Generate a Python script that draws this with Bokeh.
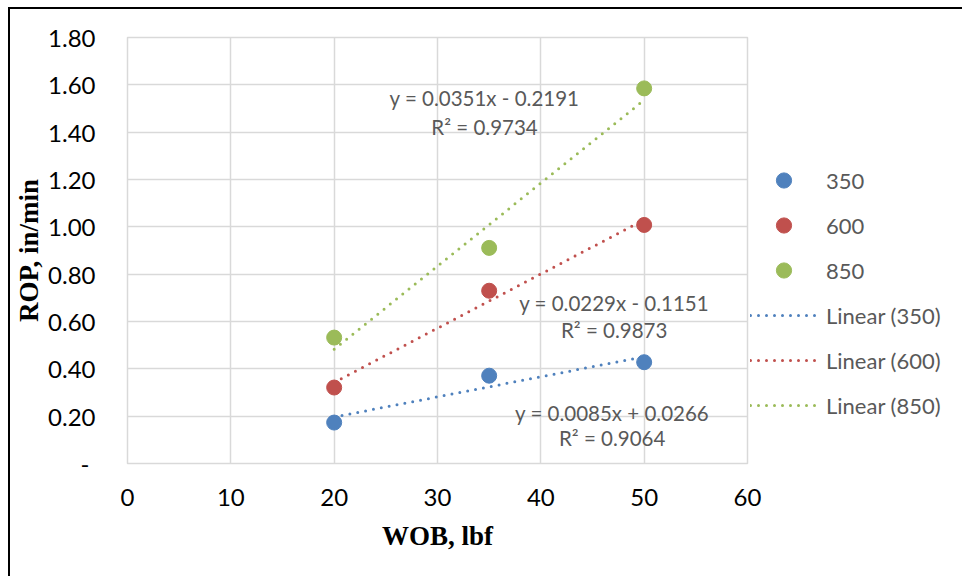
from bokeh.plotting import figure
from bokeh.models import FixedTicker, Legend, LegendItem, Label, NumeralTickFormatter
from bokeh.embed import file_html
from bokeh.resources import INLINE
import numpy as np

# ---- data ----
wob = [20, 35, 50]
series_names = ["350", "600", "850"]
rop_350 = [0.173, 0.371, 0.428]
rop_600 = [0.321, 0.730, 1.008]
rop_850 = [0.532, 0.911, 1.585]
colors = ["#4F81BD", "#C0504D", "#9BBB59"]
eq_texts = ["y = 0.0085x + 0.0266", "y = 0.0229x - 0.1151", "y = 0.0351x - 0.2191"]
r2_texts = ["R² = 0.9064", "R² = 0.9873", "R² = 0.9734"]
x_ticks = [0, 10, 20, 30, 40, 50, 60]
y_ticks = [0, 0.2, 0.4, 0.6, 0.8, 1.0, 1.2, 1.4, 1.6, 1.8]

TICK_FONT = "Lato"
p = figure(frame_width=620, frame_height=426, output_backend="svg",
           toolbar_location=None, x_range=(0, 60), y_range=(0, 1.8),
           min_border_left=127, min_border_right=0,
           min_border_top=37, min_border_bottom=113)
p.background_fill_color = "white"
p.border_fill_color = None
p.outline_line_color = "#D9D9D9"
p.outline_line_width = 1.5
# outer chart frame (left and top edges visible in the picture)
p.styles = {
    "background-color": "white",
    "background-image": "linear-gradient(black, black), linear-gradient(black, black)",
    "background-size": "2px 100%, 100% 2px",
    "background-position": "8px 7px, 8px 7px",
    "background-repeat": "no-repeat",
}

for ax in (p.xaxis[0], p.yaxis[0]):
    ax.axis_line_color = None
    ax.major_tick_line_color = None
    ax.minor_tick_line_color = None
    ax.major_label_text_font = TICK_FONT
    ax.major_label_text_font_size = "24px"
    ax.major_label_text_color = "black"
    ax.axis_label_text_font = "Liberation Serif"
    ax.axis_label_text_font_style = "bold"
    ax.axis_label_text_font_size = "27px"
    ax.axis_label_text_color = "black"

p.xaxis.ticker = FixedTicker(ticks=x_ticks)
p.yaxis.ticker = FixedTicker(ticks=y_ticks)
p.yaxis.formatter = NumeralTickFormatter(format="0.00")
p.yaxis.major_label_overrides = {0: "-\u00a0"}
p.xaxis.axis_label = "WOB, lbf"
p.yaxis.axis_label = "ROP, in/min"
p.xaxis.major_label_standoff = 19
p.yaxis.major_label_standoff = 26
p.xaxis.axis_label_standoff = 12
p.yaxis.axis_label_standoff = 1

p.xgrid.ticker = FixedTicker(ticks=x_ticks)
p.ygrid.ticker = FixedTicker(ticks=y_ticks)
p.xgrid.grid_line_color = "#D9D9D9"
p.ygrid.grid_line_color = "#D9D9D9"
p.xgrid.grid_line_width = 1.5
p.ygrid.grid_line_width = 1.5

series = [rop_350, rop_600, rop_850]
scatter_items = []
line_items = []
for name, ys, c in zip(series_names, series, colors):
    m, b = np.polyfit(wob, ys, 1)
    xs_fit = [min(wob), max(wob)]
    ys_fit = [m * x + b for x in xs_fit]
    ln = p.line(xs_fit, ys_fit, line_color=c, line_width=3, line_dash="0 8",
                line_cap="round")
    sc = p.scatter(wob, ys, size=15, fill_color=c, line_color=c)
    scatter_items.append(LegendItem(label=name, renderers=[sc]))
    line_items.append(LegendItem(label="Linear (%s)" % name, renderers=[ln]))

# trendline labels (data coordinates)
label_pos = [(46.9, 0.215, 0.106), (47.1, 0.680, 0.562), (34.55, 1.546, 1.42)]
for (lx, ly1, ly2), eq, r2 in zip(label_pos, eq_texts, r2_texts):
    for ly, t in ((ly1, eq), (ly2, r2)):
        p.add_layout(Label(x=lx, y=ly, text=t, text_align="center",
                           text_baseline="middle", text_font=TICK_FONT,
                           text_font_size="20.5px", text_color="#595959"))

legend = Legend(items=scatter_items + line_items, location=(3, 39),
                glyph_width=67, glyph_height=38, spacing=7,
                label_standoff=9, padding=0, margin=0,
                label_text_font=TICK_FONT, label_text_font_size="22px",
                label_text_color="#595959", border_line_color=None,
                background_fill_alpha=0)
p.add_layout(legend, "right")

open("out.html", "w").write(file_html(p, INLINE))
